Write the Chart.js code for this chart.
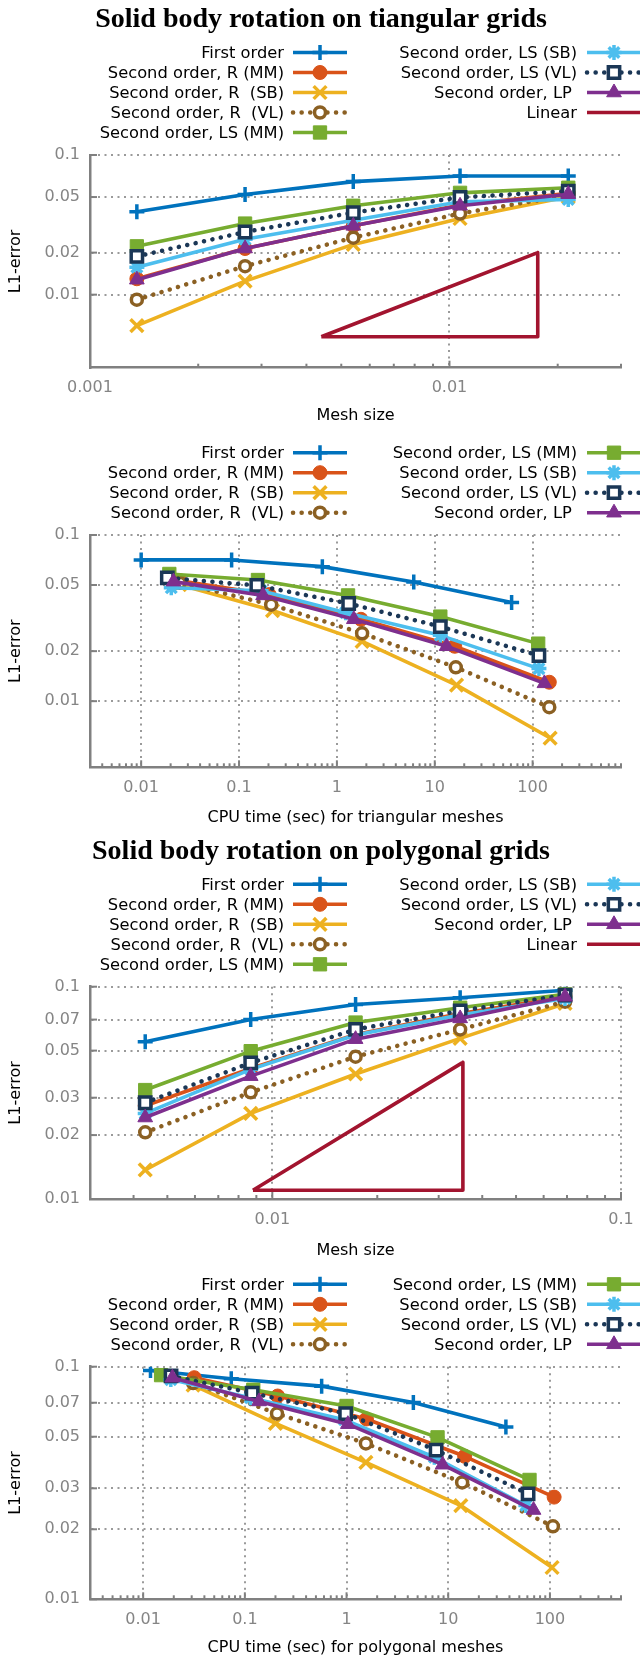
<!DOCTYPE html>
<html><head><meta charset="utf-8">
<script src="https://cdn.jsdelivr.net/npm/chart.js@4.4.0/dist/chart.umd.min.js"></script>
<style>
html,body{margin:0;padding:0;background:#fff;width:640px;height:1659px;overflow:hidden;position:relative}
canvas{position:absolute;left:0;display:block}
</style></head><body>
<canvas id="c1" width="640" height="427" style="top:0px"></canvas>
<canvas id="c2" width="640" height="409" style="top:420px"></canvas>
<canvas id="c3" width="640" height="442" style="top:820px"></canvas>
<canvas id="c4" width="640" height="399" style="top:1260px"></canvas>
<script>
// ---------------- DATA ----------------
const seriesLabels = ['First order','Second order, R (MM)','Second order, R  (SB)','Second order, R  (VL)',
  'Second order, LS (MM)','Second order, LS (SB)','Second order, LS (VL)','Second order, LP ','Linear'];

// Triangular grids: mesh size (fine -> coarse) and L1 errors
const triMesh   = [0.00135, 0.0027, 0.0054, 0.0107, 0.0214];
const triFirst  = [0.0392, 0.0522, 0.0645, 0.0708, 0.0708];
const triRMM    = [0.0130, 0.0214, 0.0311, 0.0438, 0.0531];
const triRSB    = [0.0060, 0.0125, 0.0229, 0.0351, 0.0502];
const triRVL    = [0.0092, 0.0160, 0.0256, 0.0381, 0.0516];
const triLSMM   = [0.0222, 0.0323, 0.0433, 0.0536, 0.0583];
const triLSSB   = [0.0157, 0.0249, 0.0341, 0.0462, 0.0481];
const triLSVL   = [0.0188, 0.0281, 0.0387, 0.0497, 0.0552];
const triLP     = [0.0128, 0.0214, 0.0311, 0.0433, 0.0524];
// Triangular grids: CPU time (sec), same order as the errors
const triTimeFirst = [61, 6.1, 0.71, 0.084, 0.0100];
const triTimeRMM   = [148, 16, 1.76, 0.203, 0.0247];
const triTimeRSB   = [151, 16.7, 1.81, 0.22, 0.0247];
const triTimeRVL   = [148, 16.4, 1.81, 0.213, 0.0247];
const triTimeLSMM  = [114, 11.4, 1.30, 0.156, 0.0194];
const triTimeLSSB  = [116, 11.4, 1.23, 0.168, 0.0203];
const triTimeLSVL  = [116, 11.4, 1.32, 0.152, 0.0185];
const triTimeLP    = [132, 13.2, 1.49, 0.176, 0.0214];
// Triangular "Linear" slope triangle
const triLinX = [0.0044, 0.0176, 0.0176, 0.0044];
const triLinY = [0.0050, 0.0200, 0.0050, 0.0050];

// Polygonal grids: mesh size (fine -> coarse) and L1 errors
const polyMesh  = [0.00432, 0.00867, 0.01733, 0.03457, 0.0691];
const polyFirst = [0.0551, 0.0701, 0.0825, 0.0887, 0.0963];
const polyRMM   = [0.0275, 0.0412, 0.0596, 0.0748, 0.0897];
const polyRSB   = [0.0137, 0.0253, 0.0388, 0.0571, 0.0834];
const polyRVL   = [0.0206, 0.0318, 0.0468, 0.0629, 0.0850];
const polyLSMM  = [0.0326, 0.0497, 0.0678, 0.0796, 0.0920];
const polyLSSB  = [0.0253, 0.0408, 0.0592, 0.0735, 0.0880];
const polyLSVL  = [0.0284, 0.0438, 0.0629, 0.0770, 0.0913];
const polyLP    = [0.0242, 0.0379, 0.0566, 0.0709, 0.0897];
// Polygonal grids: CPU time (sec)
const polyTimeFirst = [36.9, 4.54, 0.569, 0.0735, 0.0118];
const polyTimeRMM   = [110, 14.5, 1.57, 0.21, 0.0318];
const polyTimeRSB   = [105, 13.3, 1.55, 0.20, 0.031];
const polyTimeRVL   = [107, 13.7, 1.55, 0.207, 0.031];
const polyTimeLSMM  = [63, 7.85, 1.0, 0.121, 0.0150];
const polyTimeLSSB  = [58, 7.3, 0.95, 0.113, 0.0187];
const polyTimeLSVL  = [61, 7.6, 0.98, 0.118, 0.0188];
const polyTimeLP    = [69, 8.8, 1.03, 0.138, 0.0194];
// Polygonal "Linear" slope triangle
const polyLinX = [0.0088, 0.0352, 0.0352, 0.0088];
const polyLinY = [0.0110, 0.0440, 0.0110, 0.0110];

// Axis tick values
const yTicksTri  = [0.01, 0.02, 0.05, 0.1];
const yTicksPoly = [0.01, 0.02, 0.03, 0.05, 0.07, 0.1];
const xTicksTriMesh  = [0.001, 0.01];
const xTicksPolyMesh = [0.01, 0.1];
const xTicksTime     = [0.01, 0.1, 1, 10, 100];

// ---------------- STYLES ----------------
const DOT = {borderDash:[0.1, 8.5], borderCapStyle:'round', borderWidth:4.5};
const STY = [
  {borderColor:'#0072BD', backgroundColor:'#0072BD', pointStyle:'cross', pointRadius:7.5, pointBorderWidth:3.5},
  {borderColor:'#D95319', backgroundColor:'#D95319', pointStyle:'circle', pointRadius:7, pointBorderWidth:1},
  {borderColor:'#EDB120', backgroundColor:'#EDB120', pointStyle:'crossRot', pointRadius:9, pointBorderWidth:3.5},
  Object.assign({borderColor:'#8B6023', backgroundColor:'#ffffff', pointBorderColor:'#8B6023', pointStyle:'circle', pointRadius:5.5, pointBorderWidth:3.5}, DOT),
  {borderColor:'#77AC30', backgroundColor:'#77AC30', pointStyle:'rect', pointRadius:9.4, pointBorderWidth:1},
  {borderColor:'#4DBEEE', backgroundColor:'#4DBEEE', pointStyle:'star', pointRadius:7.5, pointBorderWidth:3.5},
  Object.assign({borderColor:'#1B3756', backgroundColor:'#ffffff', pointBorderColor:'#1B3756', pointStyle:'rect', pointRadius:8, pointBorderWidth:3.5}, DOT),
  {borderColor:'#7E2F8E', backgroundColor:'#7E2F8E', pointStyle:'triangle', pointRadius:8.5, pointBorderWidth:1},
  {borderColor:'#A2142F', backgroundColor:'#A2142F', pointStyle:false, pointRadius:0, pointBorderWidth:0}
];

function mkSet(i, xs, ys, n) {
  return Object.assign({
    label: seriesLabels[i],
    data: xs.map((x, k) => ({x: x, y: ys[k]})),
    showLine: true, fill: false, borderWidth: 3.6, borderJoinStyle: 'round',
    order: n - i
  }, STY[i]);
}

// ---------------- DECOR PLUGIN ----------------
function drawMarker(ctx, ds, x, y) {
  if (!ds.pointStyle || !ds.pointRadius) return;
  ctx.save();
  ctx.setLineDash([]);
  ctx.lineCap = 'butt';
  ctx.fillStyle = ds.backgroundColor;
  ctx.strokeStyle = ds.pointBorderColor || ds.borderColor;
  ctx.lineWidth = ds.pointBorderWidth;
  const opts = {pointStyle: ds.pointStyle, radius: ds.pointRadius, rotation: 0, borderWidth: ds.pointBorderWidth};
  if (Chart.helpers && Chart.helpers.drawPoint) {
    Chart.helpers.drawPoint(ctx, opts, x, y);
  } else {
    ctx.beginPath(); ctx.arc(x, y, ds.pointRadius, 0, Math.PI*2); ctx.fill(); ctx.stroke();
  }
  ctx.restore();
}
function hline(ctx, x1, y1, x2, y2) { ctx.beginPath(); ctx.moveTo(x1, y1); ctx.lineTo(x2, y2); ctx.stroke(); }

const decor = {
  id: 'decor',
  beforeDatasetsDraw(chart) {
    const {ctx, chartArea: a, scales: {x, y}} = chart;
    ctx.save();
    ctx.strokeStyle = '#808080'; ctx.lineWidth = 2; ctx.setLineDash([]);
    const e0 = Math.floor(Math.log10(x.min)) - 1, e1 = Math.ceil(Math.log10(x.max)) + 1;
    for (let e = e0; e <= e1; e++) {
      for (let m = 1; m <= 9; m++) {
        const v = m * Math.pow(10, e);
        if (v <= x.min * 1.0001 || v > x.max * 1.0001) continue;
        const px = x.getPixelForValue(v);
        hline(ctx, px, a.bottom, px, a.bottom - (m === 1 ? 7 : 4));
      }
    }
    y.ticks.forEach(t => { const py = y.getPixelForValue(t.value); hline(ctx, a.left, py, a.left + 7, py); });
    ctx.restore();
  },
  afterDraw(chart, args, o) {
    const ctx = chart.ctx;
    ctx.save();
    if (o.title) {
      let fs = 20;
      ctx.font = 'bold ' + fs + 'px "Liberation Serif", "DejaVu Serif", serif';
      const w = ctx.measureText(o.title).width;
      fs = fs * o.titleWidth / w;
      ctx.font = 'bold ' + fs.toFixed(2) + 'px "Liberation Serif", "DejaVu Serif", serif';
      ctx.fillStyle = '#000'; ctx.textAlign = 'center'; ctx.textBaseline = 'alphabetic';
      ctx.fillText(o.title, 321, o.titleBase);
    }
    ctx.font = '16.3px "DejaVu Sans", sans-serif';
    ctx.textAlign = 'right'; ctx.textBaseline = 'middle';
    chart.data.datasets.forEach((ds, i) => {
      const col = i < o.leftCount ? 0 : 1;
      const row = col === 0 ? i : i - o.leftCount;
      const yy = o.legendY0 + row * 20;
      const tx = col === 0 ? 284 : 577;
      const lx1 = col === 0 ? 293 : 587, lx2 = col === 0 ? 347 : 641;
      ctx.fillStyle = '#000';
      ctx.fillText(ds.label, tx, yy + 1);
      ctx.save();
      ctx.strokeStyle = ds.borderColor; ctx.lineWidth = ds.borderWidth;
      ctx.setLineDash(ds.borderDash || []); ctx.lineCap = ds.borderCapStyle || 'butt';
      hline(ctx, lx1, yy, lx2, yy);
      ctx.restore();
      drawMarker(ctx, ds, (lx1 + lx2) / 2, yy);
    });
    ctx.restore();
  }
};

function build(id, H, c) {
  const font = {family: '"DejaVu Sans", sans-serif', size: 16};
  new Chart(document.getElementById(id), {
    type: 'scatter',
    data: {datasets: c.datasets},
    plugins: [decor],
    options: {
      responsive: false, animation: false, events: [],
      layout: {padding: {top: c.areaTop, left: 0, right: 19, bottom: 0}},
      plugins: {legend: {display: false}, tooltip: {enabled: false}, title: {display: false},
        decor: {title: c.title, titleWidth: c.titleWidth, titleBase: c.titleBase, legendY0: c.legendY0, leftCount: c.leftCount}},
      scales: {
        x: {type: 'logarithmic', position: 'bottom', min: c.xMin, max: c.xMax,
          afterBuildTicks: s => { s.ticks = c.xTicks.map(v => ({value: v})); },
          afterFit: s => { s.height = H - c.areaBottom; s.paddingLeft = 0; s.paddingRight = 0; },
          ticks: {autoSkip: false, maxRotation: 0, minRotation: 0, padding: 11, color: '#858585', font: font, callback: v => String(v)},
          grid: {color: '#9a9a9a', lineWidth: 2, drawTicks: false},
          border: {display: true, color: '#808080', width: 2.5, dash: [2, 4.5]},
          title: {display: true, text: c.xTitle, color: '#000', font: font, padding: {top: 0, bottom: 2}}
        },
        y: {type: 'logarithmic', position: 'left', min: c.yMin, max: c.yMax,
          afterBuildTicks: s => { s.ticks = c.yTicks.map(v => ({value: v})); },
          afterFit: s => { s.width = 90; s.paddingTop = 0; s.paddingBottom = 0; },
          ticks: {autoSkip: false, padding: 10, color: '#858585', font: font, callback: v => String(v)},
          grid: {color: '#9a9a9a', lineWidth: 2, drawTicks: false},
          border: {display: true, color: '#808080', width: 2.5, dash: [2, 4.5]},
          title: {display: true, text: 'L1-error', color: '#000', font: font, padding: {top: 6, bottom: 0}}
        }
      }
    }
  });
}

// Chart 1: triangular, mesh size
build('c1', 427, {
  title: 'Solid body rotation on tiangular grids', titleWidth: 452, titleBase: 27,
  legendY0: 52.5, leftCount: 5, areaTop: 155, areaBottom: 367.7,
  xMin: 0.001, xMax: 0.03, yMin: 0.003, yMax: 0.1, xTicks: xTicksTriMesh, yTicks: yTicksTri, xTitle: 'Mesh size',
  datasets: [
    mkSet(0, triMesh, triFirst, 9), mkSet(1, triMesh, triRMM, 9), mkSet(2, triMesh, triRSB, 9),
    mkSet(3, triMesh, triRVL, 9), mkSet(4, triMesh, triLSMM, 9), mkSet(5, triMesh, triLSSB, 9),
    mkSet(6, triMesh, triLSVL, 9), mkSet(7, triMesh, triLP, 9), mkSet(8, triLinX, triLinY, 9)
  ]
});
// Chart 2: triangular, CPU time
build('c2', 409, {
  title: null, legendY0: 32.7, leftCount: 4, areaTop: 115, areaBottom: 347.3,
  xMin: 0.003, xMax: 800, yMin: 0.004, yMax: 0.1, xTicks: xTicksTime, yTicks: yTicksTri,
  xTitle: 'CPU time (sec) for triangular meshes',
  datasets: [
    mkSet(0, triTimeFirst, triFirst, 8), mkSet(1, triTimeRMM, triRMM, 8), mkSet(2, triTimeRSB, triRSB, 8),
    mkSet(3, triTimeRVL, triRVL, 8), mkSet(4, triTimeLSMM, triLSMM, 8), mkSet(5, triTimeLSSB, triLSSB, 8),
    mkSet(6, triTimeLSVL, triLSVL, 8), mkSet(7, triTimeLP, triLP, 8)
  ]
});
// Chart 3: polygonal, mesh size
build('c3', 442, {
  title: 'Solid body rotation on polygonal grids', titleWidth: 458, titleBase: 39,
  legendY0: 64.3, leftCount: 5, areaTop: 166.7, areaBottom: 379,
  xMin: 0.003, xMax: 0.1, yMin: 0.01, yMax: 0.1, xTicks: xTicksPolyMesh, yTicks: yTicksPoly, xTitle: 'Mesh size',
  datasets: [
    mkSet(0, polyMesh, polyFirst, 9), mkSet(1, polyMesh, polyRMM, 9), mkSet(2, polyMesh, polyRSB, 9),
    mkSet(3, polyMesh, polyRVL, 9), mkSet(4, polyMesh, polyLSMM, 9), mkSet(5, polyMesh, polyLSSB, 9),
    mkSet(6, polyMesh, polyLSVL, 9), mkSet(7, polyMesh, polyLP, 9), mkSet(8, polyLinX, polyLinY, 9)
  ]
});
// Chart 4: polygonal, CPU time
build('c4', 399, {
  title: null, legendY0: 24.3, leftCount: 4, areaTop: 106.7, areaBottom: 339.3,
  xMin: 0.003, xMax: 500, yMin: 0.01, yMax: 0.1, xTicks: xTicksTime, yTicks: yTicksPoly,
  xTitle: 'CPU time (sec) for polygonal meshes',
  datasets: [
    mkSet(0, polyTimeFirst, polyFirst, 8), mkSet(1, polyTimeRMM, polyRMM, 8), mkSet(2, polyTimeRSB, polyRSB, 8),
    mkSet(3, polyTimeRVL, polyRVL, 8), mkSet(4, polyTimeLSMM, polyLSMM, 8), mkSet(5, polyTimeLSSB, polyLSSB, 8),
    mkSet(6, polyTimeLSVL, polyLSVL, 8), mkSet(7, polyTimeLP, polyLP, 8)
  ]
});
</script>
</body></html>
